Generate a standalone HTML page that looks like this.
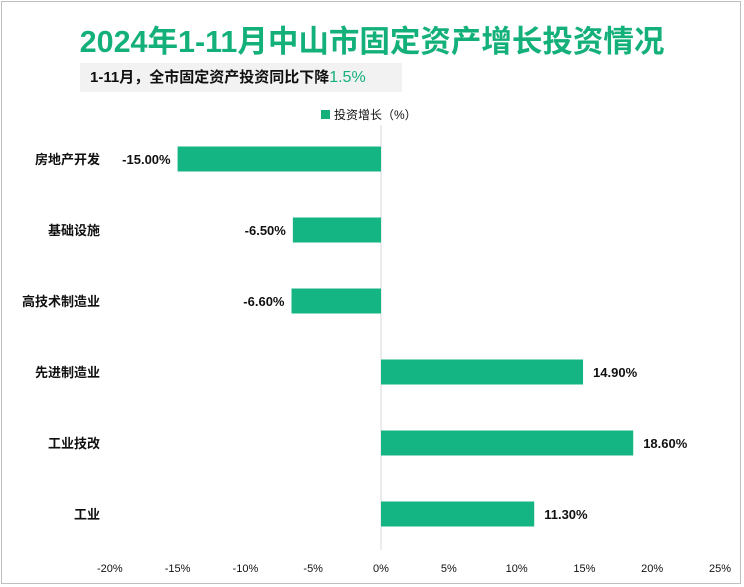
<!DOCTYPE html>
<html><head><meta charset="utf-8"><style>
body{margin:0;width:744px;height:587px;overflow:hidden;background:#fff;font-family:"Liberation Sans","Noto Sans CJK SC",sans-serif}
#frame{position:absolute;left:1px;top:1px;width:740px;height:583px;border:1px solid #bfbfbf;box-sizing:border-box}
#title{position:absolute;left:0;width:744px;top:17px;text-align:center;font-size:30.5px;font-weight:bold;color:#14b07a}
#sub{position:absolute;left:80px;top:63px;width:322px;height:29px;background:#f2f2f2;font-size:15px;font-weight:bold;line-height:29px;padding-left:10px;box-sizing:border-box;color:#111}
</style></head><body>
<div id="frame"></div>
<div id="title">2024年1-11月中山市固定资产增长投资情况</div>
<div id="sub">1-11月，全市固定资产投资同比下降<span style="color:#14b07a;font-weight:normal;font-size:16px">1.5%</span></div>
<svg id="chart" width="744" height="587" style="position:absolute;left:0;top:0"></svg>
<script>
const categories=["房地产开发","基础设施","高技术制造业","先进制造业","工业技改","工业"];
const values=[-15.0,-6.5,-6.6,14.9,18.6,11.3];
const ticks=[-20,-15,-10,-5,0,5,10,15,20,25];
const NS="http://www.w3.org/2000/svg";
const svg=document.getElementById('chart');
const x=v=>381+(v)*13.56;
const y=i=>159+i*71;
function mk(t,a,txt){const e=document.createElementNS(NS,t);for(const k in a)e.setAttribute(k,a[k]);if(txt!=null)e.textContent=txt;svg.appendChild(e);return e;}
let lg=mk('rect',{x:321,y:110,width:9,height:9,fill:'#14b07a'});


let lt=mk('text',{x:334,y:119,'font-size':12,fill:'#111'},'投资增长（%）');


let ax=mk('line',{x1:x(0),x2:x(0),y1:125,y2:550,stroke:'#d9d9d9'});


ticks.forEach(t=>{
 const e=mk('text',{x:x(t),y:572,'font-size':11,'text-anchor':'middle',fill:'#111'},t+'%');
 
 
});
categories.forEach((c,i)=>{
 const v=values[i],cy=y(i);
 const r=mk('rect',{x:Math.min(x(0),x(v)),y:cy-12.5,width:Math.abs(x(v)-x(0)),height:25,fill:'#14b583'});
 
 
 const cl=mk('text',{x:100,y:cy+5,'font-size':13,'font-weight':'bold','text-anchor':'end',fill:'#111'},c);
 
 
 const lbl=v.toFixed(2)+'%';
 const vl=v<0?mk('text',{x:x(v)-7,y:cy+5,'font-size':13,'font-weight':'bold','text-anchor':'end',fill:'#111'},lbl)
            :mk('text',{x:x(v)+10,y:cy+5,'font-size':13,'font-weight':'bold',fill:'#111'},lbl);
 
 
});
</script>
</body></html>
